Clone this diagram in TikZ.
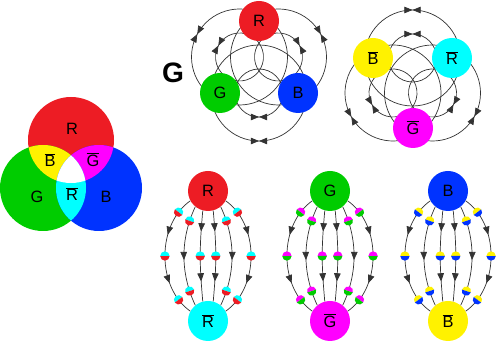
\documentclass[tikz,border=0pt]{standalone}
\usepackage{fontspec}
\setmainfont{Liberation Sans}
\usetikzlibrary{arrows.meta,decorations.markings,backgrounds,calc}

\definecolor{qred}{RGB}{237,28,36}
\definecolor{qgreen}{RGB}{0,204,0}
\definecolor{qblue}{RGB}{0,51,255}
\definecolor{qyellow}{RGB}{255,242,0}
\definecolor{qmagenta}{RGB}{255,0,255}
\definecolor{qcyan}{RGB}{0,255,255}

\newcommand{\antiq}[1]{$\overline{\mbox{#1}}$}
\newcommand{\gluon}[2]{%
  \fill[#1] (90:0.14cm) arc[start angle=90,end angle=270,radius=0.14cm] -- cycle;
  \fill[#2] (-90:0.14cm) arc[start angle=-90,end angle=90,radius=0.14cm] -- cycle;}
% ring round the middle of two charges: outer half with arrows, inner half plain
\newcommand{\fieldring}[4]{%
  \draw[bowtie] ($(#1)!0.5!(#2)$) ++(#3:#4) arc[start angle=#3, delta angle=180, radius=#4];
  \draw[field] ($(#1)!0.5!(#2)$) ++(#3:#4) arc[start angle=#3, delta angle=-180, radius=#4];}

\tikzset{
  ftip/.tip={Triangle[length=7pt,width=5.6pt]},
  charge/.style={circle, minimum size=1.2cm, inner sep=0pt, font=\fontsize{14}{16}\selectfont},
  vlabel/.style={inner sep=0pt, font=\fontsize{14}{16}\selectfont},
  field/.style={draw=black!80, line width=0.6pt},
  bowtie/.style={field, postaction={decorate}, decoration={markings,
      mark=at position 0.5 with {\arrow{ftip}},
      mark=at position 0.5 with {\arrowreversed{ftip}}}},
  outerln/.style 2 args={field, postaction={decorate}, decoration={markings,
      mark=at position 0.13 with {\gluon{#1}{#2}},
      mark=at position 0.33 with {\arrow{ftip}},
      mark=at position 0.5 with {\gluon{#1}{#2}},
      mark=at position 0.72 with {\arrow{ftip}},
      mark=at position 0.87 with {\gluon{#1}{#2}}}},
  midln/.style 2 args={field, postaction={decorate}, decoration={markings,
      mark=at position 0.15 with {\gluon{#1}{#2}},
      mark=at position 0.54 with {\arrow{ftip}},
      mark=at position 0.85 with {\gluon{#1}{#2}}}},
  innerln/.style 2 args={field, postaction={decorate}, decoration={markings,
      mark=at position 0.23 with {\arrow{ftip}},
      mark=at position 0.5 with {\gluon{#1}{#2}},
      mark=at position 0.78 with {\arrow{ftip}}}},
}

\begin{document}
\begin{tikzpicture}[x=0.03cm, y=0.03cm]
  \useasboundingbox (0,0) rectangle (500,341);

  % colour mixing
  \fill[qred] (71,201) circle[radius=43];
  \fill[qgreen] (43,153) circle[radius=43];
  \fill[qblue] (99,153) circle[radius=43];
  \begin{scope}
    \clip (71,201) circle[radius=43];
    \fill[qyellow] (43,153) circle[radius=43];
    \fill[qmagenta] (99,153) circle[radius=43];
  \end{scope}
  \begin{scope}
    \clip (43,153) circle[radius=43];
    \fill[qcyan] (99,153) circle[radius=43];
    \clip (99,153) circle[radius=43];
    \fill[white] (71,201) circle[radius=43];
  \end{scope}
  \node[vlabel] (vR) at (72,212) {R};
  \node[vlabel] (vG) at (37,144) {G};
  \node[vlabel] (vB) at (106,144) {B};
  \node[vlabel] (vBb) at (50,181) {\antiq{B}};
  \node[vlabel] (vGb) at (93,181) {\antiq{G}};
  \node[vlabel] (vRb) at (72,147) {\antiq{R}};

  % colour triangle
  \node[font=\fontsize{24}{28}\selectfont\bfseries] (title) at (173,268) {G};
  \node[charge, fill=qred] (qR) at (259,320) {R};
  \node[charge, fill=qgreen] (qG) at (220,248) {G};
  \node[charge, fill=qblue] (qB) at (298,248) {B};
  \begin{pgfonlayer}{background}
    \fieldring{qR}{qG}{61.6}{48}
    \fieldring{qR}{qG}{61.6}{24}
    \fieldring{qG}{qB}{180}{48}
    \fieldring{qG}{qB}{180}{24}
    \fieldring{qB}{qR}{298.4}{48}
    \fieldring{qB}{qR}{298.4}{24}
  \end{pgfonlayer}

  % anticolour triangle
  \node[charge, fill=qyellow] (aB) at (373,283) {\antiq{B}};
  \node[charge, fill=qcyan] (aR) at (452,283) {\antiq{R}};
  \node[charge, fill=qmagenta] (aG) at (413,213) {\antiq{G}};
  \begin{pgfonlayer}{background}
    \fieldring{aB}{aG}{119.7}{48}
    \fieldring{aB}{aG}{119.7}{24}
    \fieldring{aG}{aR}{240.9}{48}
    \fieldring{aG}{aR}{240.9}{24}
    \fieldring{aR}{aB}{0}{48}
    \fieldring{aR}{aB}{0}{24}
  \end{pgfonlayer}

  % red -- antired
  \node[charge, fill=qred] (cR) at (208,150) {R};
  \node[charge, fill=qcyan] (cRb) at (208,20) {\antiq{R}};
  \draw[outerln={qcyan}{qred}] (cR.209) to[out=215,in=145,looseness=0.96] (cRb.151);
  \draw[outerln={qcyan}{qred}] (cR.331) to[out=325,in=35,looseness=0.96] (cRb.29);
  \draw[midln={qcyan}{qred}] (cR.231) to[out=245,in=115,looseness=0.93] (cRb.129);
  \draw[midln={qcyan}{qred}] (cR.309) to[out=295,in=65,looseness=0.93] (cRb.51);
  \draw[innerln={qcyan}{qred}] (cR.255) to[out=265,in=95,looseness=1.1] (cRb.105);
  \draw[innerln={qcyan}{qred}] (cR.285) to[out=275,in=85,looseness=1.1] (cRb.75);

  % green -- antigreen
  \node[charge, fill=qgreen] (cG) at (330,150) {G};
  \node[charge, fill=qmagenta] (cGb) at (330,20) {\antiq{G}};
  \draw[outerln={qmagenta}{qgreen}] (cG.209) to[out=215,in=145,looseness=0.96] (cGb.151);
  \draw[outerln={qmagenta}{qgreen}] (cG.331) to[out=325,in=35,looseness=0.96] (cGb.29);
  \draw[midln={qmagenta}{qgreen}] (cG.231) to[out=245,in=115,looseness=0.93] (cGb.129);
  \draw[midln={qmagenta}{qgreen}] (cG.309) to[out=295,in=65,looseness=0.93] (cGb.51);
  \draw[innerln={qmagenta}{qgreen}] (cG.255) to[out=265,in=95,looseness=1.1] (cGb.105);
  \draw[innerln={qmagenta}{qgreen}] (cG.285) to[out=275,in=85,looseness=1.1] (cGb.75);

  % blue -- antiblue
  \node[charge, fill=qblue] (cB) at (448,150) {B};
  \node[charge, fill=qyellow] (cBb) at (448,20) {\antiq{B}};
  \draw[outerln={qyellow}{qblue}] (cB.209) to[out=215,in=145,looseness=0.96] (cBb.151);
  \draw[outerln={qyellow}{qblue}] (cB.331) to[out=325,in=35,looseness=0.96] (cBb.29);
  \draw[midln={qyellow}{qblue}] (cB.231) to[out=245,in=115,looseness=0.93] (cBb.129);
  \draw[midln={qyellow}{qblue}] (cB.309) to[out=295,in=65,looseness=0.93] (cBb.51);
  \draw[innerln={qyellow}{qblue}] (cB.255) to[out=265,in=95,looseness=1.1] (cBb.105);
  \draw[innerln={qyellow}{qblue}] (cB.285) to[out=275,in=85,looseness=1.1] (cBb.75);
\end{tikzpicture}
\end{document}
